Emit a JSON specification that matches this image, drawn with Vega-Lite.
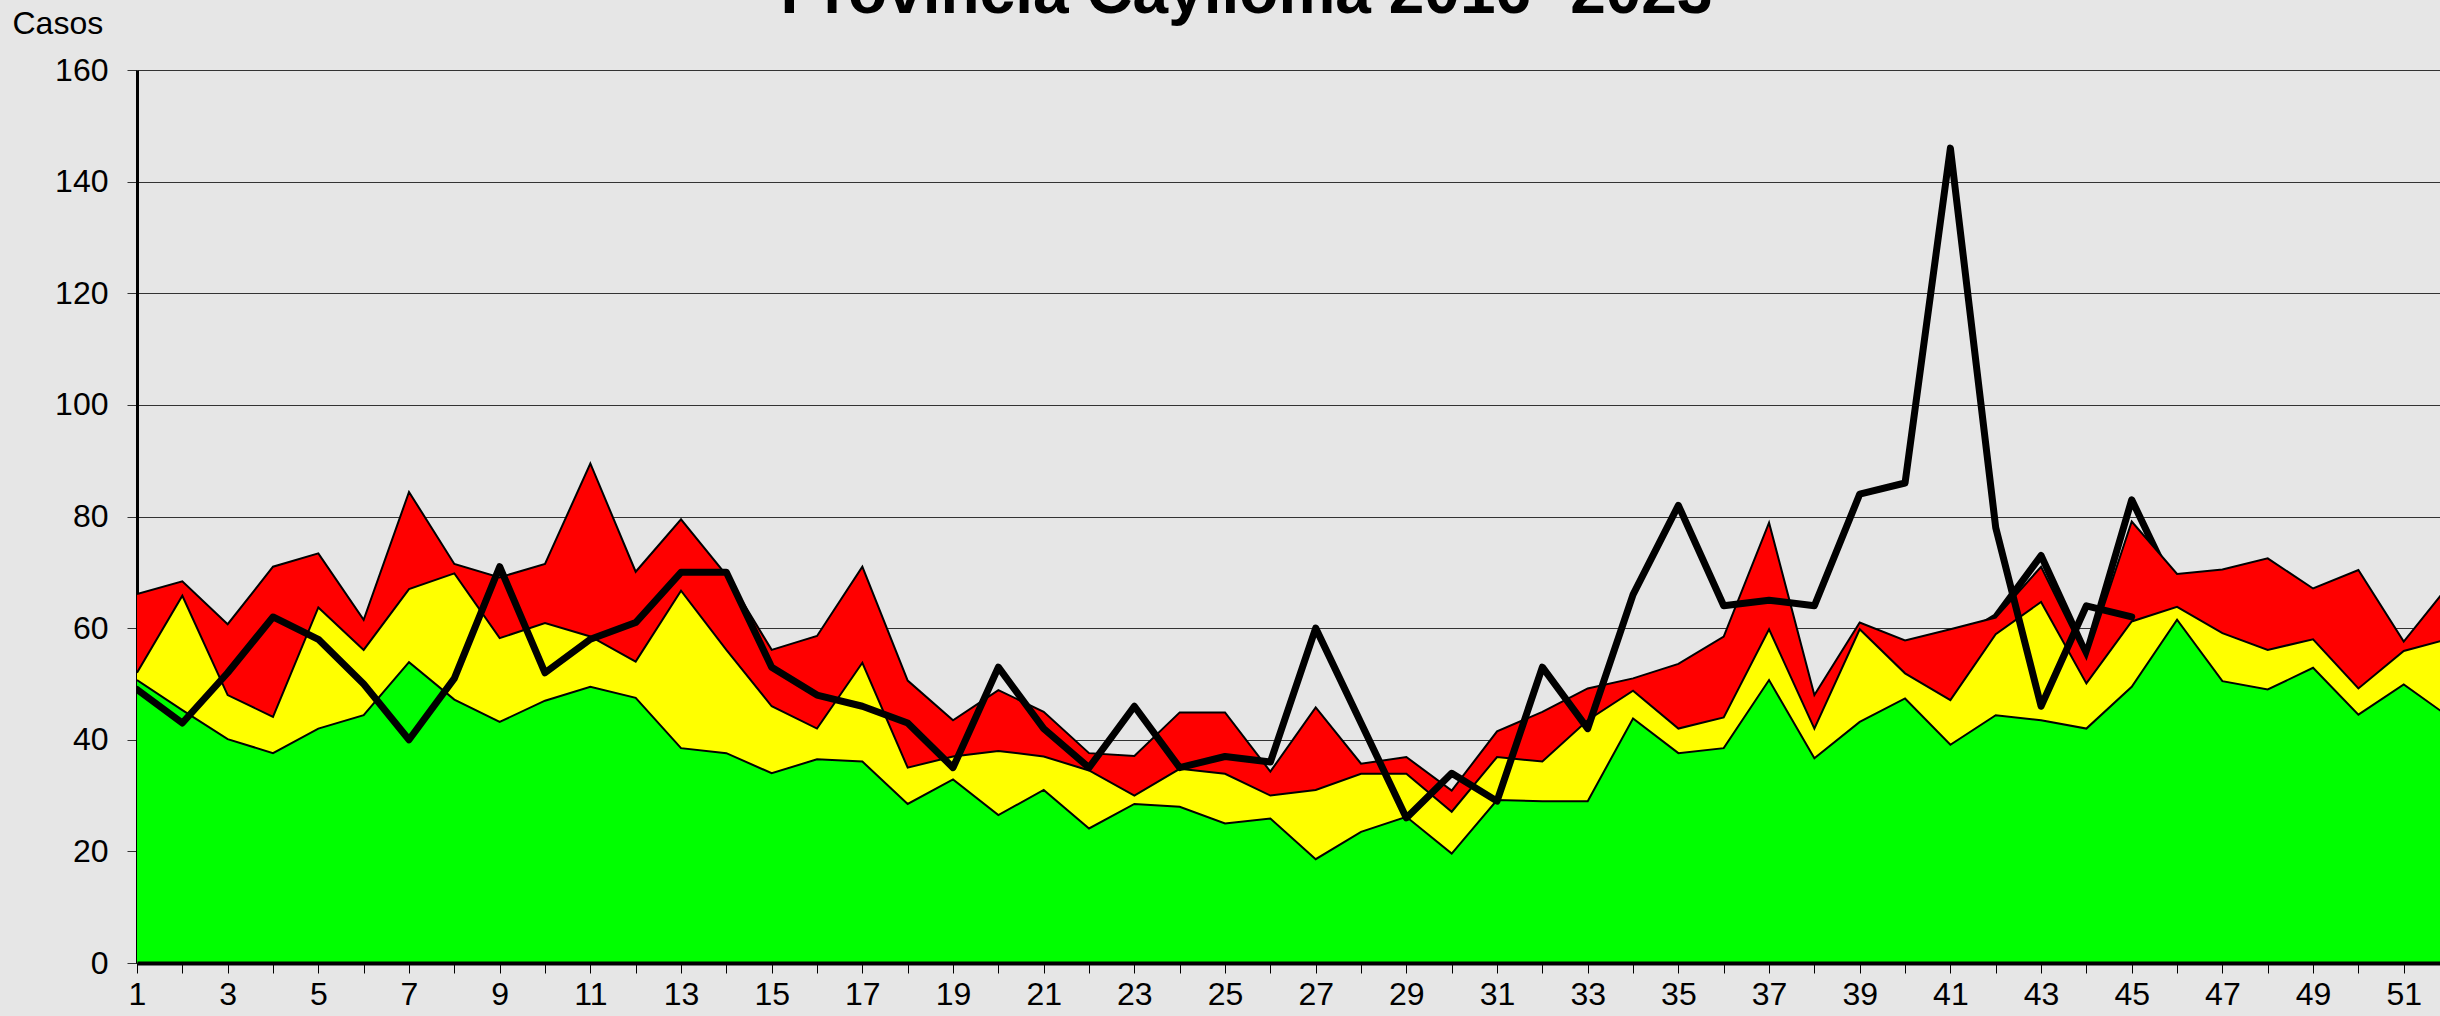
{
  "$schema": "https://vega.github.io/schema/vega-lite/v6.json",
  "width": 2303,
  "height": 893,
  "autosize": {"type": "none"},
  "padding": {"left": 137, "top": 70, "right": 0, "bottom": 53},
  "background": "#e6e6e6",
  "config": {"view": {"stroke": null, "fill": "#e6e6e6"}, "font": "Liberation Sans"},
  "title": {
    "text": "Provincia Caylloma 2016- 2023",
    "font": "Liberation Sans",
    "fontSize": 64,
    "fontWeight": "bold",
    "color": "#000000",
    "anchor": "middle",
    "frame": "group",
    "offset": -19,
    "dx": -42
  },
  "data": {
    "values": [
      {"semana": 1, "exito": 50.7, "seguridad": 52.0, "alarma": 66.1, "casos": 49},
      {"semana": 2, "exito": 45.3, "seguridad": 65.8, "alarma": 68.4, "casos": 43},
      {"semana": 3, "exito": 40.1, "seguridad": 48.0, "alarma": 60.7, "casos": 52},
      {"semana": 4, "exito": 37.6, "seguridad": 44.1, "alarma": 71.0, "casos": 62},
      {"semana": 5, "exito": 42.0, "seguridad": 63.7, "alarma": 73.4, "casos": 58},
      {"semana": 6, "exito": 44.4, "seguridad": 56.1, "alarma": 61.5, "casos": 50},
      {"semana": 7, "exito": 53.9, "seguridad": 67.0, "alarma": 84.4, "casos": 40},
      {"semana": 8, "exito": 47.2, "seguridad": 69.8, "alarma": 71.5, "casos": 51},
      {"semana": 9, "exito": 43.2, "seguridad": 58.2, "alarma": 69.1, "casos": 71},
      {"semana": 10, "exito": 47.0, "seguridad": 60.9, "alarma": 71.5, "casos": 52},
      {"semana": 11, "exito": 49.5, "seguridad": 58.5, "alarma": 89.5, "casos": 58},
      {"semana": 12, "exito": 47.5, "seguridad": 54.0, "alarma": 70.1, "casos": 61},
      {"semana": 13, "exito": 38.5, "seguridad": 66.7, "alarma": 79.5, "casos": 70},
      {"semana": 14, "exito": 37.6, "seguridad": 56.1, "alarma": 69.5, "casos": 70},
      {"semana": 15, "exito": 34.0, "seguridad": 46.0, "alarma": 56.1, "casos": 53},
      {"semana": 16, "exito": 36.5, "seguridad": 42.0, "alarma": 58.6, "casos": 48},
      {"semana": 17, "exito": 36.1, "seguridad": 53.8, "alarma": 71.0, "casos": 46},
      {"semana": 18, "exito": 28.5, "seguridad": 35.0, "alarma": 50.6, "casos": 43},
      {"semana": 19, "exito": 32.9, "seguridad": 37.0, "alarma": 43.5, "casos": 35},
      {"semana": 20, "exito": 26.5, "seguridad": 38.0, "alarma": 48.9, "casos": 53},
      {"semana": 21, "exito": 31.0, "seguridad": 37.0, "alarma": 45.0, "casos": 42},
      {"semana": 22, "exito": 24.1, "seguridad": 34.5, "alarma": 37.6, "casos": 35},
      {"semana": 23, "exito": 28.5, "seguridad": 30.0, "alarma": 37.1, "casos": 46},
      {"semana": 24, "exito": 28.0, "seguridad": 34.8, "alarma": 44.9, "casos": 35},
      {"semana": 25, "exito": 25.0, "seguridad": 33.9, "alarma": 44.9, "casos": 37},
      {"semana": 26, "exito": 25.9, "seguridad": 30.0, "alarma": 34.3, "casos": 36},
      {"semana": 27, "exito": 18.6, "seguridad": 31.0, "alarma": 45.8, "casos": 60},
      {"semana": 28, "exito": 23.5, "seguridad": 33.9, "alarma": 35.7, "casos": 43},
      {"semana": 29, "exito": 26.2, "seguridad": 33.9, "alarma": 36.9, "casos": 26},
      {"semana": 30, "exito": 19.6, "seguridad": 27.1, "alarma": 30.9, "casos": 34},
      {"semana": 31, "exito": 29.2, "seguridad": 36.9, "alarma": 41.5, "casos": 29},
      {"semana": 32, "exito": 29.0, "seguridad": 36.1, "alarma": 45.0, "casos": 53},
      {"semana": 33, "exito": 29.0, "seguridad": 43.5, "alarma": 49.2, "casos": 42},
      {"semana": 34, "exito": 43.8, "seguridad": 48.8, "alarma": 51.0, "casos": 66},
      {"semana": 35, "exito": 37.6, "seguridad": 42.0, "alarma": 53.6, "casos": 82},
      {"semana": 36, "exito": 38.5, "seguridad": 44.0, "alarma": 58.5, "casos": 64},
      {"semana": 37, "exito": 50.7, "seguridad": 59.8, "alarma": 78.9, "casos": 65},
      {"semana": 38, "exito": 36.7, "seguridad": 42.0, "alarma": 48.0, "casos": 64},
      {"semana": 39, "exito": 43.2, "seguridad": 59.8, "alarma": 61.0, "casos": 84},
      {"semana": 40, "exito": 47.4, "seguridad": 51.9, "alarma": 57.8, "casos": 86},
      {"semana": 41, "exito": 39.1, "seguridad": 47.1, "alarma": 59.8, "casos": 146, "otra": 57},
      {"semana": 42, "exito": 44.4, "seguridad": 58.9, "alarma": 61.9, "casos": 78, "otra": 62},
      {"semana": 43, "exito": 43.5, "seguridad": 64.7, "alarma": 71.0, "casos": 46, "otra": 73},
      {"semana": 44, "exito": 42.0, "seguridad": 50.1, "alarma": 54.6, "casos": 64, "otra": 55.3},
      {"semana": 45, "exito": 49.5, "seguridad": 61.2, "alarma": 79.1, "casos": 62, "otra": 83},
      {"semana": 46, "exito": 61.5, "seguridad": 63.8, "alarma": 69.7, "otra": 66},
      {"semana": 47, "exito": 50.5, "seguridad": 59.1, "alarma": 70.5},
      {"semana": 48, "exito": 49.0, "seguridad": 56.1, "alarma": 72.5},
      {"semana": 49, "exito": 52.9, "seguridad": 58.0, "alarma": 67.1},
      {"semana": 50, "exito": 44.5, "seguridad": 49.2, "alarma": 70.4},
      {"semana": 51, "exito": 49.9, "seguridad": 55.9, "alarma": 57.6},
      {"semana": 52, "exito": 44.1, "seguridad": 58.1, "alarma": 67.7}
    ]
  },
  "transform": [
    {"fold": ["alarma", "seguridad", "exito", "casos", "otra"], "as": ["serie", "valor"]}
  ],
  "encoding": {
    "x": {
      "field": "semana",
      "type": "quantitative",
      "scale": {"domain": [1, 51.8], "nice": false, "zero": false},
      "axis": {
        "title": null,
        "values": [1,2,3,4,5,6,7,8,9,10,11,12,13,14,15,16,17,18,19,20,21,22,23,24,25,26,27,28,29,30,31,32,33,34,35,36,37,38,39,40,41,42,43,44,45,46,47,48,49,50,51],
        "labelExpr": "datum.value % 2 === 1 ? datum.label : ''",
        "labelFont": "Liberation Sans",
        "labelFontSize": 32,
        "labelColor": "#000000",
        "labelPadding": 6,
        "labelOverlap": false,
        "labelFlush": false,
        "tickSize": 10,
        "tickColor": "#000000",
        "tickWidth": 1,
        "domainColor": "#000000",
        "domainWidth": 4,
        "grid": false,
        "zindex": 1
      }
    },
    "y": {
      "field": "valor",
      "type": "quantitative",
      "stack": null,
      "scale": {"domain": [0, 160], "nice": false},
      "axis": {
        "title": "Casos",
        "titleAngle": 0,
        "titleAlign": "left",
        "titleBaseline": "alphabetic",
        "titleX": -125,
        "titleY": -37,
        "titleFont": "Liberation Sans",
        "titleFontSize": 32,
        "titleFontWeight": "normal",
        "titleColor": "#000000",
        "values": [0, 20, 40, 60, 80, 100, 120, 140, 160],
        "labelFont": "Liberation Sans",
        "labelFontSize": 32,
        "labelColor": "#000000",
        "labelPadding": 19,
        "tickSize": 10,
        "tickColor": "#333333",
        "domainColor": "#000000",
        "domainWidth": 3,
        "grid": true,
        "gridColor": "#333333",
        "gridWidth": 1.2,
        "gridOpacity": 1,
        "zindex": 0
      }
    }
  },
  "layer": [
    {
      "transform": [{"filter": "datum.serie === 'otra' && isValid(datum.valor)"}],
      "mark": {"type": "line", "color": "#000000", "strokeWidth": 7, "strokeJoin": "round", "strokeCap": "round", "clip": true}
    },
    {
      "transform": [{"filter": "datum.serie === 'alarma'"}],
      "mark": {"type": "area", "color": "#ff0000", "opacity": 1, "clip": true}
    },
    {
      "transform": [{"filter": "datum.serie === 'seguridad'"}],
      "mark": {"type": "area", "color": "#ffff00", "opacity": 1, "clip": true}
    },
    {
      "transform": [{"filter": "datum.serie === 'exito'"}],
      "mark": {"type": "area", "color": "#00ff00", "opacity": 1, "clip": true}
    },
    {
      "transform": [{"filter": "datum.serie === 'alarma'"}],
      "mark": {"type": "line", "color": "#000000", "strokeWidth": 2, "clip": true}
    },
    {
      "transform": [{"filter": "datum.serie === 'seguridad'"}],
      "mark": {"type": "line", "color": "#000000", "strokeWidth": 2, "clip": true}
    },
    {
      "transform": [{"filter": "datum.serie === 'exito'"}],
      "mark": {"type": "line", "color": "#000000", "strokeWidth": 2, "clip": true}
    },
    {
      "transform": [{"filter": "datum.serie === 'casos' && isValid(datum.valor)"}],
      "mark": {"type": "line", "color": "#000000", "strokeWidth": 7, "strokeJoin": "round", "strokeCap": "round", "clip": true}
    }
  ]
}
